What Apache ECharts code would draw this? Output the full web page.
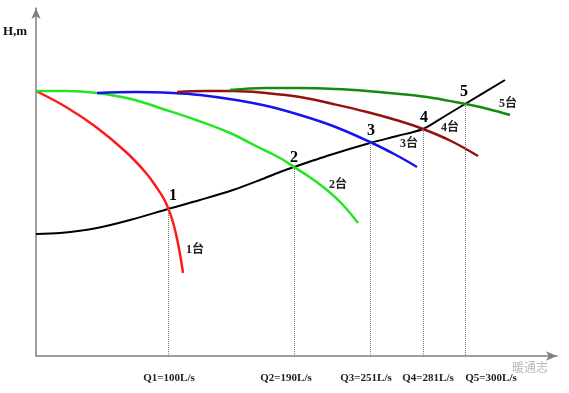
<!DOCTYPE html>
<html><head><meta charset="utf-8">
<script src="https://cdn.jsdelivr.net/npm/echarts@6/dist/echarts.min.js"></script>
<style>html,body{margin:0;padding:0;background:#fff}#c{width:569px;height:393px}</style>
</head><body><div id="c"></div>
<script>
// Schematic chart (no numeric scale in the original): flow on x, head on y, arbitrary units
const pump1 = [[0,265],[30,249],[60,229],[90,204],[110,183],[121,168],[128,157],[132,148],[136,137],[140,122],[144,102],[147,83]];
const pump2 = [[0,265],[30,265],[61,263],[95,257],[127,247],[160,236],[194,223],[220,210],[244,198],[258,189],[275,178],[291,166],[307,151],[322,133]];
const pump3 = [[61,263],[100,264],[137,263],[164,261],[200,256],[231,250],[264,241],[297,230],[334,214],[360,201],[381,189]];
const pump4 = [[141,264],[170,265],[197,265],[230,263],[264,259],[297,252],[331,244],[360,236],[387,227],[415,215],[442,200]];
const pump5 = [[194,266],[230,268],[264,268],[300,267],[331,265],[364,262],[397,258],[429,252],[452,247],[474,241]];
const system = [[0,122],[24,123],[61,128],[94,136],[132,147],[164,156],[197,166],[224,176],[244,184],[258,189],[294,201],[334,213],[361,220],[387,227],[409,240],[429,252],[469,276]];

const opPoints = [[132,147],[258,189],[334,213],[387,227],[429,252]];
const opNames = ['1','2','3','4','5'];
const opLabelAt = [[137,160],[258,198],[335,225],[388,238],[428,264]];

const unitNames = ['1台','2台','3台','4台','5台'];
const unitLabelAt = [[159,106],[302,171],[373,212],[414,228],[472,252]];

const qLabels = ['Q1=100L/s','Q2=190L/s','Q3=251L/s','Q4=281L/s','Q5=300L/s'];
const qLabelAt = [133,250,330,392,455];

const colors = ['#ff1a1a','#22e622','#1414f0','#961010','#148c14'];
const pumps = [pump1,pump2,pump3,pump4,pump5];

const serif = '"Liberation Serif","Times New Roman","Noto Sans CJK SC",serif';

const series = pumps.map((d,i)=>({
  type:'line', data:d, smooth:0.4, showSymbol:false, silent:true,
  lineStyle:{color:colors[i], width:2.5}, z:3,
  markPoint:{
    symbol:'circle', symbolSize:1, itemStyle:{color:'rgba(0,0,0,0)'}, silent:true,
    data:[{coord:unitLabelAt[i], name:unitNames[i]}],
    label:{show:true, position:'inside', formatter:'{b}', color:'#222',
      fontFamily:serif, fontWeight:'bold', fontSize:12}
  }
}));

series.push({
  type:'line', data:system, smooth:0.3, showSymbol:false, silent:true,
  lineStyle:{color:'#000', width:2}, z:2,
  markLine:{
    silent:true, symbol:['none','none'], label:{show:false},
    lineStyle:{color:'#777', width:1, type:'dotted'},
    data: opPoints.map(p=>[{coord:[p[0],p[1]]},{coord:[p[0],0]}])
  },
  markPoint:{
    symbol:'circle', symbolSize:1, itemStyle:{color:'rgba(0,0,0,0)'}, silent:true,
    data: opLabelAt.map((p,i)=>({coord:p, name:opNames[i]})),
    label:{show:true, position:'inside', formatter:'{b}', color:'#000',
      fontFamily:serif, fontWeight:'bold', fontSize:16}
  }
});

const chart = echarts.init(document.getElementById('c'), null, {renderer:'canvas'});
chart.setOption({
  animation:false,
  backgroundColor:'#fff',
  grid:{left:36, right:12, top:8, bottom:37, containLabel:false},
  xAxis:{
    type:'value', min:0, max:521,
    splitLine:{show:false}, axisTick:{show:false},
    axisLine:{show:true, symbol:['none','arrow'], symbolSize:[7,11], lineStyle:{color:'#808080', width:1.5}},
    axisLabel:{
      show:true, customValues:qLabelAt, margin:17,
      formatter:(v)=>{const k=qLabelAt.indexOf(Math.round(v)); return k>=0?qLabels[k]:'';},
      color:'#222', fontFamily:serif, fontWeight:'bold', fontSize:11
    }
  },
  yAxis:{
    type:'value', min:0, max:348,
    splitLine:{show:false}, axisTick:{show:false}, axisLabel:{show:false},
    axisLine:{show:true, symbol:['none','arrow'], symbolSize:[7,11], lineStyle:{color:'#808080', width:1.5}}
  },
  graphic:[
    {type:'text', left:3, top:25, style:{text:'H,m', fill:'#111', font:'bold 13px '+serif}},
    {type:'text', left:512, top:361, style:{text:'暖通志', fill:'#b8b8b8', font:'12px "Noto Sans CJK SC",sans-serif'}}
  ],
  series:series
});
</script>
</body></html>
